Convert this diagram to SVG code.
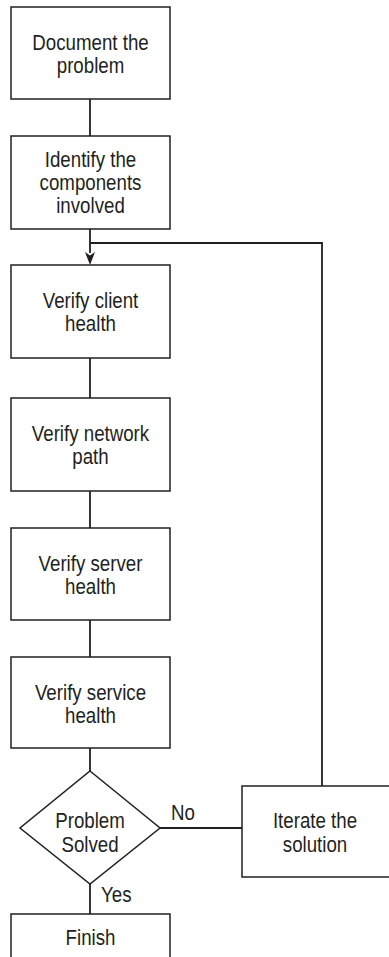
<svg xmlns="http://www.w3.org/2000/svg" width="389" height="957" viewBox="0 0 389 957">
<style>
.box{fill:#fff;stroke:#231f20;stroke-width:1.5}
.ln{fill:none;stroke:#231f20;stroke-width:1.8}
text{font-family:"Liberation Sans",Arial,sans-serif;font-size:22px;fill:#231f20;text-anchor:middle}
.lbl{text-anchor:start}
</style>
<rect width="389" height="957" fill="#fff"/>
<g id="connectors">
<line class="ln" x1="90" y1="99" x2="90" y2="136"/>
<line class="ln" x1="90" y1="229" x2="90" y2="253"/>
<path d="M85,252 L90,255.5 L95,252 L90,265 Z" fill="#231f20"/>
<polyline class="ln" points="322,786 322,243 90,243"/>
<line class="ln" x1="90" y1="358" x2="90" y2="398"/>
<line class="ln" x1="90" y1="491" x2="90" y2="528"/>
<line class="ln" x1="90" y1="620" x2="90" y2="657"/>
<line class="ln" x1="90" y1="748" x2="90" y2="771"/>
<line class="ln" x1="160" y1="828" x2="242" y2="828"/>
<line class="ln" x1="90" y1="884" x2="90" y2="914"/>
<text class="lbl" transform="translate(171,820) scale(0.85,1)">No</text>
<text class="lbl" transform="translate(101,902) scale(0.85,1)">Yes</text>
</g>
<g id="n1"><rect class="box" x="11" y="7" width="159" height="92"/><text transform="translate(90.5,50) scale(0.85,1)">Document the</text><text transform="translate(90.5,73) scale(0.85,1)">problem</text></g>
<g id="n2"><rect class="box" x="11" y="136" width="159" height="93"/><text transform="translate(90.5,167) scale(0.85,1)">Identify the</text><text transform="translate(90.5,190) scale(0.85,1)">components</text><text transform="translate(90.5,213) scale(0.85,1)">involved</text></g>
<g id="n3"><rect class="box" x="11" y="265" width="159" height="93"/><text transform="translate(90.5,308) scale(0.85,1)">Verify client</text><text transform="translate(90.5,331) scale(0.85,1)">health</text></g>
<g id="n4"><rect class="box" x="11" y="398" width="159" height="93"/><text transform="translate(90.5,441) scale(0.85,1)">Verify network</text><text transform="translate(90.5,464) scale(0.85,1)">path</text></g>
<g id="n5"><rect class="box" x="11" y="528" width="159" height="92"/><text transform="translate(90.5,571) scale(0.85,1)">Verify server</text><text transform="translate(90.5,594) scale(0.85,1)">health</text></g>
<g id="n6"><rect class="box" x="11" y="657" width="159" height="91"/><text transform="translate(90.5,700) scale(0.85,1)">Verify service</text><text transform="translate(90.5,723) scale(0.85,1)">health</text></g>
<g id="n7"><polygon class="box" points="90,771 160,828 90,884 20,828"/><text transform="translate(90,828) scale(0.85,1)">Problem</text><text transform="translate(90,852) scale(0.85,1)">Solved</text></g>
<g id="n8"><rect class="box" x="242" y="786" width="160" height="91"/><text transform="translate(315,828) scale(0.85,1)">Iterate the</text><text transform="translate(315,852) scale(0.85,1)">solution</text></g>
<g id="n9"><rect class="box" x="11" y="914" width="159" height="60"/><text transform="translate(90.5,945) scale(0.85,1)">Finish</text></g>
</svg>
